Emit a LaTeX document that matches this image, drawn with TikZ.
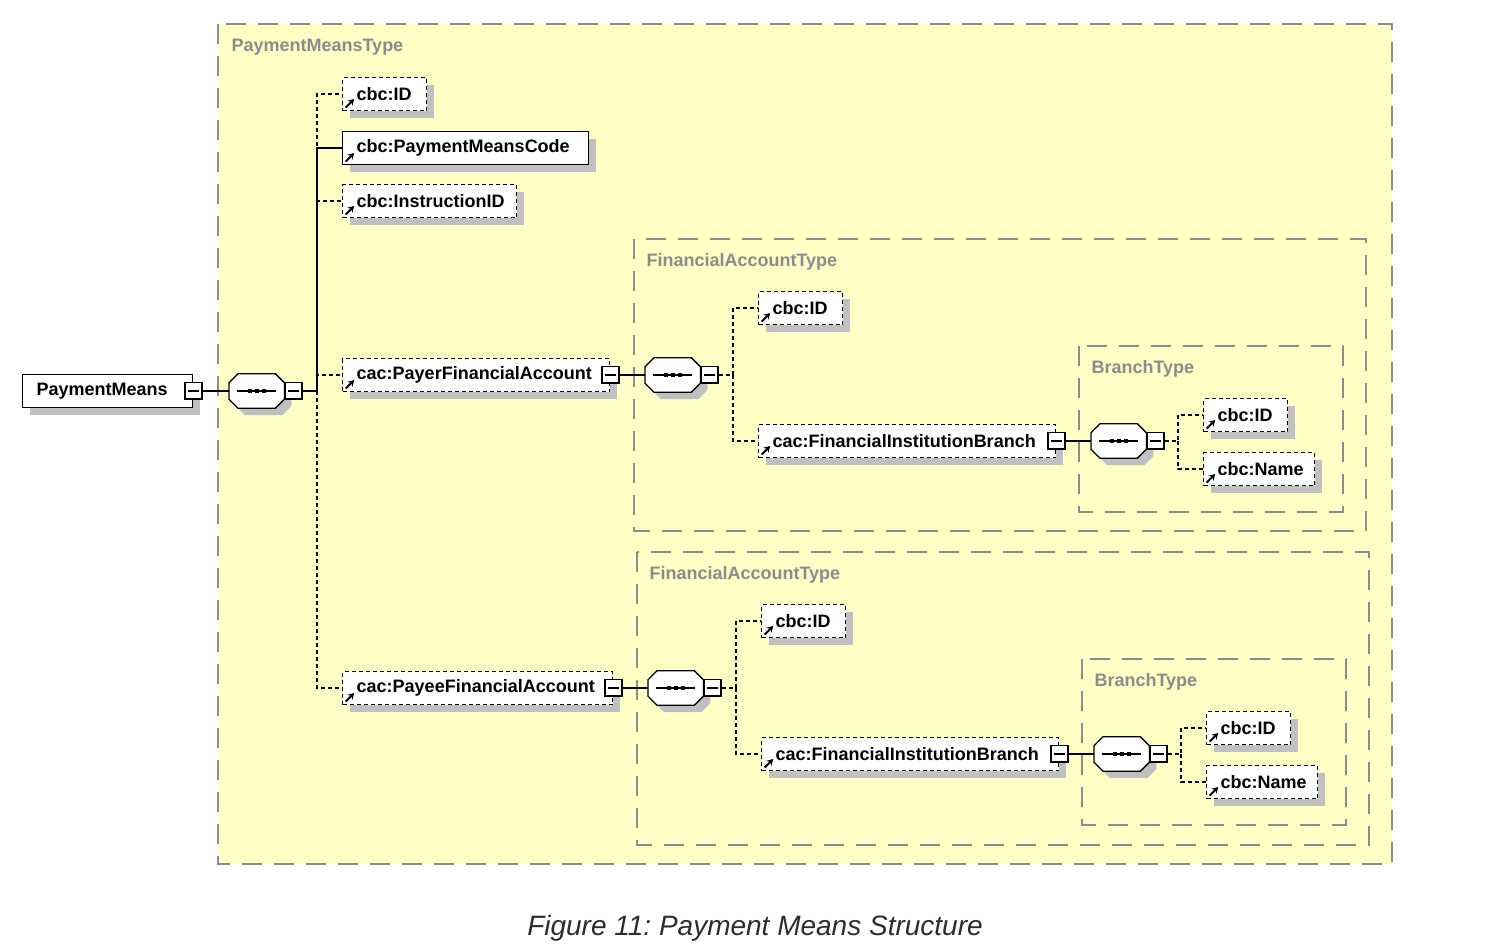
\documentclass[tikz,border=0pt]{standalone}
\usepackage{fontspec}
\setmainfont{Liberation Sans}
\frenchspacing
\usetikzlibrary{shadows,arrows.meta}

\definecolor{typefill}{RGB}{255,255,197}
\definecolor{typegray}{RGB}{140,140,140}
\definecolor{shadowgray}{RGB}{192,192,192}
\definecolor{captiongray}{RGB}{45,45,45}

% octagon round a compositor node, #2 = shadow offset
\newcommand{\seqoutline}[2]{%
  ([shift={(9pt+#2,-#2)}]#1.north west) -- ([shift={(-9pt+#2,-#2)}]#1.north east)
  -- ([shift={(#2,-9pt-#2)}]#1.north east) -- ([shift={(#2,9pt-#2)}]#1.south east)
  -- ([shift={(-9pt+#2,-#2)}]#1.south east) -- ([shift={(9pt+#2,-#2)}]#1.south west)
  -- ([shift={(#2,9pt-#2)}]#1.south west) -- ([shift={(#2,-9pt-#2)}]#1.north west) -- cycle}

\tikzset{
  element/.style={draw, fill=white, line width=1.4pt, anchor=west,
    minimum height=33pt, inner xsep=14pt, inner ysep=0pt, align=left,
    font=\bfseries\fontsize{18}{20}\selectfont,
    drop shadow={shadow xshift=7pt, shadow yshift=-7pt, fill=shadowgray, opacity=1}},
  optional/.style={element, dash pattern=on 4pt off 3pt},
  reference/.style={path picture={
      \draw[solid, line width=2pt, -{Stealth[length=6pt,width=7pt]}]
        ([shift={(3pt,3pt)}]path picture bounding box.south west) -- ++(8.5pt,8.5pt);}},
  collapse/.style={draw, fill=white, line width=1.2pt, rectangle,
    minimum size=17pt, inner sep=0pt,
    path picture={
      \draw[line width=1.2pt] ([xshift=3pt]path picture bounding box.west)
        -- ([xshift=-3pt]path picture bounding box.east);
      \draw[line width=2.4pt] (path picture bounding box.south west)
        -- (path picture bounding box.south east) -- (path picture bounding box.north east);}},
  sequence/.style={rectangle, anchor=west, minimum width=55pt, minimum height=34pt, inner sep=0pt,
    append after command={\pgfextra{
      \fill[shadowgray] \seqoutline{\tikzlastnode}{7pt};
      \draw[fill=white, line width=1.3pt] \seqoutline{\tikzlastnode}{0pt};
      \draw[line width=1.2pt] ([xshift=8pt]\tikzlastnode.west) -- ([xshift=-8pt]\tikzlastnode.east);
      \foreach \dx in {-7,0,7}
        \fill ([xshift=\dx pt]\tikzlastnode.center) +(-2.2pt,-2.2pt) rectangle +(2.2pt,2.2pt);}}},
  typebox/.style={draw=typegray, fill=typefill, line width=1.4pt, dash pattern=on 20pt off 12pt},
  typelabel/.style={anchor=west, text=typegray, font=\bfseries\fontsize{18}{20}\selectfont},
  link/.style={line width=1.3pt},
  optlink/.style={link, dash pattern=on 4pt off 3pt}
}

\begin{document}
\begin{tikzpicture}[x=1pt, y=-1pt]
\useasboundingbox (0,0) rectangle (1509,945);

%========================
% Frames
%========================
\draw[typebox] (218,24) rectangle (1392,864);
\draw[typebox] (634,239) rectangle (1366,531);
\draw[typebox] (1079,346) rectangle (1343,512);
\draw[typebox] (637,552) rectangle (1369,845);
\draw[typebox] (1082,659) rectangle (1346,825);

% Frame labels
\node[typelabel] (pmType) at (228,47) {PaymentMeansType};
\node[typelabel] (faType1) at (643,262) {FinancialAccountType};
\node[typelabel] (brType1) at (1088,369) {BranchType};
\node[typelabel] (faType2) at (646,575) {FinancialAccountType};
\node[typelabel] (brType2) at (1091,682) {BranchType};

%========================
% PaymentMeans
%========================
\node[element, text width=142pt] (pm) at (22,391) {PaymentMeans};
\node[collapse] (pmC) at (pm.east) {};

\node[sequence] (pmSeq) at (229,391) {};
\node[collapse, anchor=west] (pmSeqC) at (pmSeq.east) {};
\coordinate (pmFork) at (317,391);

\node[optional, reference, text width=56pt] (pmId) at (342,94) {cbc:ID};
\node[element, reference, text width=218pt] (pmCode) at (342,148) {cbc:PaymentMeansCode};
\node[optional, reference, text width=146pt] (pmInstr) at (342,201) {cbc:InstructionID};
\node[optional, reference, text width=239pt] (payer) at (342,375) {cac:PayerFinancialAccount};
\node[collapse] (payerC) at (payer.east) {};
\node[optional, reference, text width=242pt] (payee) at (342,688) {cac:PayeeFinancialAccount};
\node[collapse] (payeeC) at (payee.east) {};

% Edges
\draw[link] (pmC) -- (pmSeq);
\draw[link] (pmSeqC) -- (pmFork) |- (pmCode.west);
\draw[optlink] (pmFork) |- (pmId.west);
\draw[optlink] (pmFork) |- (pmInstr.west);
\draw[optlink] (pmFork) |- (payer.west);
\draw[optlink] (pmFork) |- (payee.west);

%========================
% Payer account
%========================
\node[sequence] (faSeq1) at (645,375) {};
\node[collapse, anchor=west] (faSeq1C) at (faSeq1.east) {};
\coordinate (faFork1) at (733,375);

\node[optional, reference, text width=56pt] (faId1) at (758,308) {cbc:ID};
\node[optional, reference, text width=269pt] (branch1) at (758,441) {cac:FinancialInstitutionBranch};
\node[collapse] (branch1C) at (branch1.east) {};

% BranchType
\node[sequence] (brSeq1) at (1091,441) {};
\node[collapse, anchor=west] (brSeq1C) at (brSeq1.east) {};
\coordinate (brFork1) at (1178,441);

\node[optional, reference, text width=56pt] (brId1) at (1203,415) {cbc:ID};
\node[optional, reference, text width=83pt] (brName1) at (1203,469) {cbc:Name};

% Edges
\draw[link] (payerC) -- (faSeq1);
\draw[optlink] (faSeq1C) -- (faFork1) |- (faId1.west);
\draw[optlink] (faFork1) |- (branch1.west);
\draw[link] (branch1C) -- (brSeq1);
\draw[optlink] (brSeq1C) -- (brFork1) |- (brId1.west);
\draw[optlink] (brFork1) |- (brName1.west);

%========================
% Payee account
%========================
\node[sequence] (faSeq2) at (648,688) {};
\node[collapse, anchor=west] (faSeq2C) at (faSeq2.east) {};
\coordinate (faFork2) at (736,688);

\node[optional, reference, text width=56pt] (faId2) at (761,621) {cbc:ID};
\node[optional, reference, text width=269pt] (branch2) at (761,754) {cac:FinancialInstitutionBranch};
\node[collapse] (branch2C) at (branch2.east) {};

% BranchType
\node[sequence] (brSeq2) at (1094,754) {};
\node[collapse, anchor=west] (brSeq2C) at (brSeq2.east) {};
\coordinate (brFork2) at (1181,754);

\node[optional, reference, text width=56pt] (brId2) at (1206,728) {cbc:ID};
\node[optional, reference, text width=83pt] (brName2) at (1206,782) {cbc:Name};

% Edges
\draw[link] (payeeC) -- (faSeq2);
\draw[optlink] (faSeq2C) -- (faFork2) |- (faId2.west);
\draw[optlink] (faFork2) |- (branch2.west);
\draw[link] (branch2C) -- (brSeq2);
\draw[optlink] (brSeq2C) -- (brFork2) |- (brId2.west);
\draw[optlink] (brFork2) |- (brName2.west);

% Caption
\node[text=captiongray, font=\itshape\fontsize{28}{32}\selectfont] (caption) at (755,928)
  {Figure 11: Payment Means Structure};

\end{tikzpicture}
\end{document}
